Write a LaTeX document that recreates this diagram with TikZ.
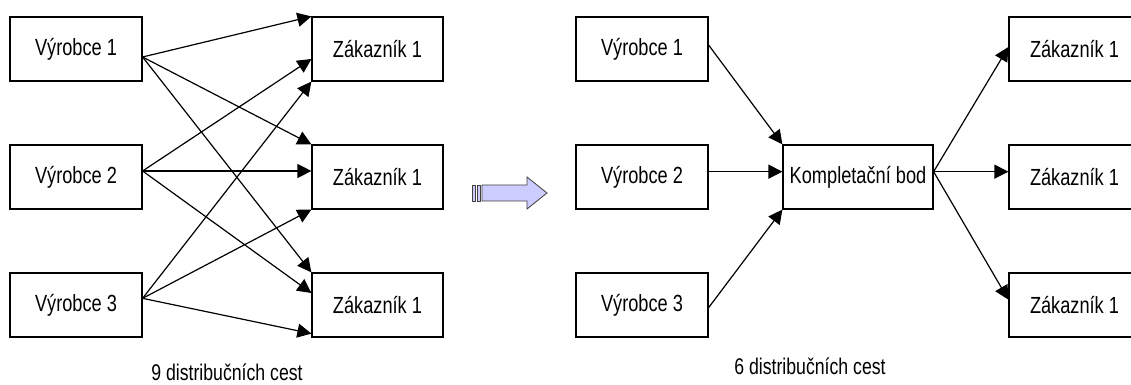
\documentclass[tikz,border=0pt]{standalone}
\usepackage{fontspec}
\setmainfont{Liberation Sans}[FakeStretch=0.78]
\usetikzlibrary{arrows.meta}
\definecolor{blockfill}{RGB}{204,204,255}
\tikzset{
  box/.style={draw,line width=0.9pt,minimum width=99pt,minimum height=48pt,inner sep=0pt,font=\fontsize{17.5}{20}\selectfont},
  link/.style={-{Triangle[length=10.5pt,width=10.5pt]},line width=0.9pt},
  caption/.style={font=\fontsize{17}{20}\selectfont},
}
\begin{document}
\begin{tikzpicture}[x=0.75pt,y=0.75pt]
\useasboundingbox (0,0) rectangle (1131,385);
% direct distribution: every producer to every customer
\node[box] (a1) at (76,336) {Výrobce 1};
\node[box] (a2) at (76,208) {Výrobce 2};
\node[box] (a3) at (76,80) {Výrobce 3};
\node[box,minimum width=98.25pt] (b1) at (377.5,336) {Zákazník 1};
\node[box,minimum width=98.25pt] (b2) at (377.5,208) {Zákazník 1};
\node[box,minimum width=98.25pt] (b3) at (377.5,80) {Zákazník 1};
\draw[link] ([yshift=-6pt]a1.east) -- (b1.north west);
\draw[link] ([yshift=-6pt]a1.east) -- (b2.north west);
\draw[link] ([yshift=-6pt]a1.east) -- (b3.north west);
\draw[link] ([yshift=4.5pt]a2.east) -- ([yshift=-7.5pt]b1.west);
\draw[link] ([yshift=4.5pt]a2.east) -- ([yshift=4.5pt]b2.west);
\draw[link] ([yshift=4.5pt]a2.east) -- ([yshift=9pt]b3.west);
\draw[link] ([yshift=5pt]a3.east) -- (b1.south west);
\draw[link] ([yshift=5pt]a3.east) -- (b2.south west);
\draw[link] ([yshift=5pt]a3.east) -- ([yshift=3pt]b3.south west);
\node[caption] (sum9) at (227,13) {9 distribučních cest};
% striped arrow between the two schemes
\filldraw[fill=blockfill,draw=black!75,line width=0.6pt] (472,184) rectangle (475,200);
\filldraw[fill=blockfill,draw=black!75,line width=0.6pt] (477,184) rectangle (480,200);
\filldraw[fill=blockfill,draw=black!75,line width=0.6pt]
  (482,184) -- (527,184) -- (527,176) -- (547,192) -- (527,208) -- (527,200) -- (482,200) -- cycle;
% distribution through the completion point
\node[box] (c1) at (642,336) {Výrobce 1};
\node[box] (c2) at (642,208) {Výrobce 2};
\node[box] (c3) at (642,80) {Výrobce 3};
\node[box,minimum width=112.5pt] (k) at (858,208) {Kompletační bod};
\node[box,minimum width=98.25pt] (d1) at (1074.5,336) {Zákazník 1};
\node[box,minimum width=98.25pt] (d2) at (1074.5,208) {Zákazník 1};
\node[box,minimum width=98.25pt] (d3) at (1074.5,80) {Zákazník 1};
\draw[link] ([yshift=3pt]c1.east) -- (k.north west);
\draw[link] ([yshift=4pt]c2.east) -- ([yshift=4pt]k.west);
\draw[link] ([yshift=-2pt]c3.east) -- (k.south west);
\draw[link] ([yshift=4pt]k.east) -- ([yshift=1.5pt]d1.west);
\draw[link] ([yshift=4pt]k.east) -- ([yshift=4pt]d2.west);
\draw[link] ([yshift=4pt]k.east) -- ([yshift=4pt]d3.west);
\node[caption] (sum6) at (810,19) {6 distribučních cest};
\end{tikzpicture}
\end{document}
